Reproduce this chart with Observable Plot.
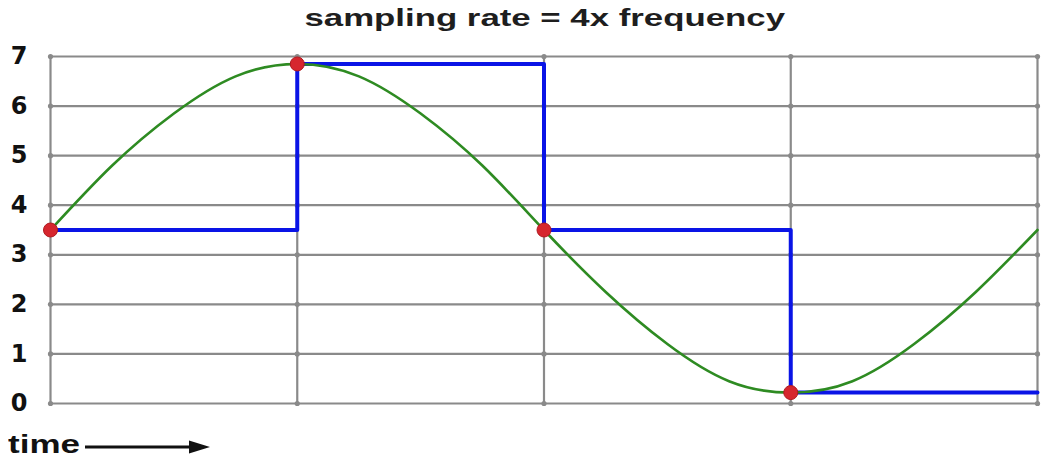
<!DOCTYPE html>
<html>
<head>
<meta charset="utf-8">
<script src="https://cdn.jsdelivr.net/npm/d3@7"></script>
<script src="https://cdn.jsdelivr.net/npm/@observablehq/plot@0.6"></script>
<style>
  html, body { margin: 0; padding: 0; background: #fff; }
  body { width: 1052px; height: 464px; overflow: hidden; font-family: "Liberation Sans", Arial, sans-serif; }
  #title { height: 40px; line-height: 36px; text-align: center; font-size: 24px; font-weight: bold; color: #1e1e1e; padding-left: 38px; }
  #title span { display: inline-block; transform: scaleX(1.45); transform-origin: 50% 50%; }
  #time { position: relative; height: 40px; font-size: 25px; font-weight: bold; color: #111; }
  #time span { position: absolute; left: 8px; top: 6px; display: inline-block; transform: scaleX(1.4); transform-origin: 0 50%; }
  #time svg { position: absolute; left: 83px; top: 12px; }
</style>
</head>
<body>
<div id="title"><span>sampling rate = 4x frequency</span></div>
<div id="chart"></div>
<div id="time"><span>time</span><svg width="132" height="22"><line x1="2" y1="11" x2="110" y2="11" stroke="#111" stroke-width="3"/><polygon points="106,4.5 127,11 106,17.5" fill="#111"/></svg></div>
<script>
// Data (time in quarter-periods)
const waveTimes  = [0, 0.25, 0.5, 0.75, 1, 1.25, 1.5, 1.75, 2, 2.25, 2.5, 2.75, 3, 3.25, 3.5, 3.75, 4];
const waveValues = [3.5, 4.8, 5.85, 6.6, 6.85, 6.6, 5.85, 4.8, 3.5, 2.25, 1.2, 0.45, 0.22, 0.45, 1.2, 2.25, 3.5];
const sampleTimes  = [0, 1, 2, 3];
const sampleValues = [3.5, 6.85, 3.5, 0.22];
const yTicks = [0, 1, 2, 3, 4, 5, 6, 7];
const xGrid  = [0, 1, 2, 3, 4];
const xEnd = 4;

const wave = waveTimes.map((t, i) => ({t, v: waveValues[i]}));
const samples = sampleTimes.map((t, i) => ({t, v: sampleValues[i]}));
const held = samples.concat([{t: xEnd, v: sampleValues[sampleValues.length - 1]}]);
const crossings = xGrid.flatMap(t => yTicks.map(v => ({t, v})));

const chart = Plot.plot({
  width: 1052,
  height: 384,
  marginLeft: 50,
  marginRight: 15,
  marginTop: 16,
  marginBottom: 21,
  x: {domain: [0, 4], axis: null},
  y: {domain: [0, 7], axis: null},
  style: {fontFamily: "'Liberation Sans', Arial, sans-serif", background: "#fff", overflow: "visible"},
  marks: [
    Plot.ruleY(yTicks, {stroke: "#8a8a8a", strokeWidth: 2.2}),
    Plot.ruleX(xGrid, {stroke: "#8a8a8a", strokeWidth: 2.2}),
    Plot.dot(crossings, {x: "t", y: "v", r: 2.6, fill: "#8a8a8a"}),
    Plot.axisY({ticks: yTicks, label: null, tickSize: 0, tickPadding: 23, fontSize: 24, fontWeight: "bold", fontFamily: "'DejaVu Sans', sans-serif", fill: "#111", tickFormat: d => d}),
    Plot.line(held, {x: "t", y: "v", curve: "step-after", stroke: "#0a14e6", strokeWidth: 4}),
    Plot.line(wave, {x: "t", y: "v", curve: "natural", stroke: "#2e8b22", strokeWidth: 2.6}),
    Plot.dot(samples, {x: "t", y: "v", r: 7, fill: "#d6262e", stroke: "#b01a20", strokeWidth: 1})
  ]
});
document.getElementById("chart").appendChild(chart);
</script>
</body>
</html>
